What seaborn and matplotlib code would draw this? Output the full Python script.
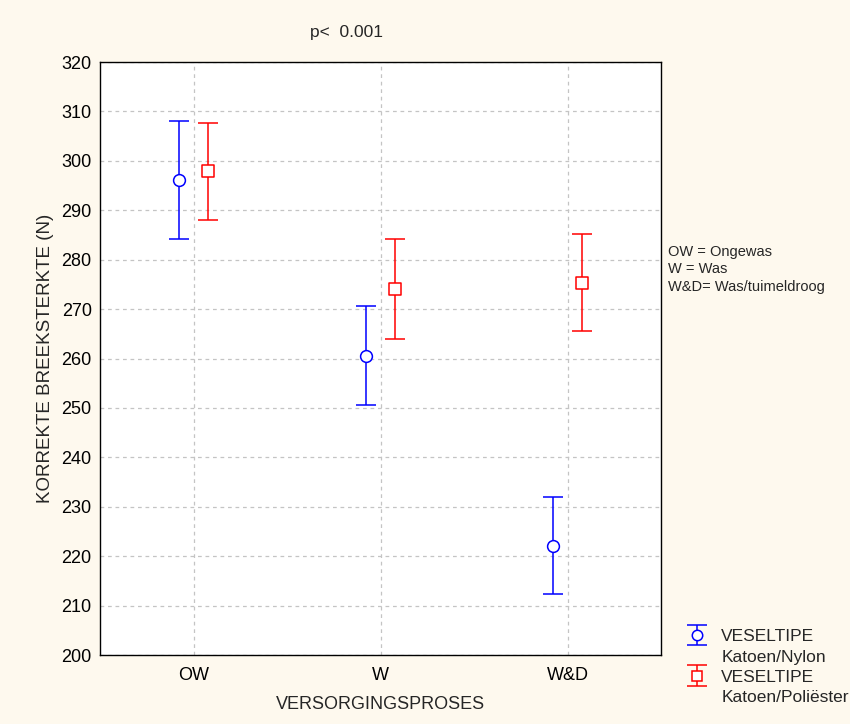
import matplotlib
matplotlib.use("Agg")
import matplotlib.pyplot as plt
import seaborn as sns
import pandas as pd
import numpy as np
from matplotlib.lines import Line2D
from matplotlib.container import ErrorbarContainer
from matplotlib.legend_handler import HandlerErrorbar

categories = ["OW", "W", "W&D"]
fibre_types = ["VESELTIPE\nKatoen/Nylon", "VESELTIPE\nKatoen/Poliëster"]
means_nylon = [296.1, 260.6, 222.1]
err_nylon = [11.9, 10.1, 9.8]
means_poly = [297.9, 274.1, 275.3]
err_poly = [9.8, 10.1, 9.8]

colors = ["#0000FF", "#FF0000"]
markers = ["o", "s"]
offsets = [-0.08, 0.08]

rows = []
for t, (m, e) in enumerate([(means_nylon, err_nylon), (means_poly, err_poly)]):
    for i, c in enumerate(categories):
        rows.append(dict(cat=c, pos=i + offsets[t], typ=fibre_types[t], mean=m[i], err=e[i]))
df = pd.DataFrame(rows)

sns.set_style("white")
plt.rcParams["font.family"] = ["Liberation Sans", "DejaVu Sans"]

bg = "#FEF9EE"
fig = plt.figure(figsize=(8.5, 7.24), dpi=100, facecolor=bg)
ax = fig.add_axes([100/850, 1-655/724, 561/850, (655-62)/724])
ax.set_facecolor("white")

containers = []
for t, typ in enumerate(fibre_types):
    sub = df[df.typ == typ]
    cont = ax.errorbar(sub["pos"], sub["mean"], yerr=sub["err"], fmt=markers[t],
                       color=colors[t], markerfacecolor="white", markeredgecolor=colors[t],
                       markersize=7.5, markeredgewidth=1.1,
                       ecolor=colors[t], elinewidth=1.1, capsize=7, capthick=1.1, zorder=3)
    containers.append(cont)
    sns.scatterplot(data=sub, x="pos", y="mean", marker=markers[t], s=72,
                    facecolor="white", edgecolor=colors[t], linewidth=1.1, ax=ax, zorder=4,
                    legend=False)

ax.set_xlim(-0.5, 2.5)
ax.set_ylim(200, 320)
ax.set_xticks(range(len(categories)))
ax.set_xticklabels(categories)
ax.set_yticks(np.arange(200, 321, 10))
ax.tick_params(axis="both", direction="in", length=4, width=1, labelsize=13, colors="black")
ax.tick_params(axis="y", pad=6)
ax.tick_params(axis="x", pad=9)
ax.grid(True, color="#C4C4C4", linestyle=(0, (3, 3)), linewidth=0.9)
for s in ax.spines.values():
    s.set_color("black")
    s.set_linewidth(1.0)
ax.set_xlabel("VERSORGINGSPROSES", fontsize=13, labelpad=8)
ax.set_ylabel("KORREKTE BREEKSTERKTE (N)", fontsize=13.5, labelpad=5)

fig.text(347/850, 1-33/724, "p<  0.001", fontsize=12.5, ha="center", va="center")
fig.text(668/850, 1-252/724, "OW = Ongewas", fontsize=10.5, va="center")
fig.text(668/850, 1-269/724, "W = Was", fontsize=10.5, va="center")
fig.text(668/850, 1-287/724, "W&D= Was/tuimeldroog", fontsize=10.5, va="center")

blank = Line2D([], [], linestyle="none")
handles = [containers[0], blank, containers[1], blank]
labels = ["VESELTIPE", "Katoen/Nylon", "VESELTIPE", "Katoen/Poliëster"]
leg = fig.legend(handles, labels, loc="upper left", bbox_to_anchor=(683/850, 1-629/724),
                 frameon=False, fontsize=12.5, handlelength=1.6, labelspacing=0.3,
                 handletextpad=0.6, borderaxespad=0, borderpad=0,
                 handler_map={ErrorbarContainer: HandlerErrorbar(yerr_size=0.6)})
fig.savefig("out.png", dpi=100, facecolor=bg)
